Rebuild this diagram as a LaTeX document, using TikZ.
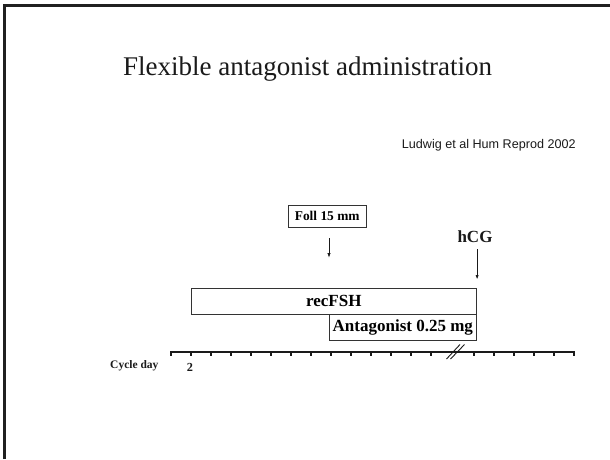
\documentclass[tikz,border=0pt]{standalone}
\usepackage{fontspec}
\setmainfont{Liberation Serif}
\newfontfamily\faSans{Liberation Sans}
\usepackage{xcolor}
\usepackage{tikz}
\usetikzlibrary{arrows.meta,calc,positioning}
\definecolor{faInk}{HTML}{1A1A1A}
\definecolor{faFrame}{HTML}{202020}
\definecolor{faEdge}{HTML}{333333}
\tikzset{
  fabox/.style={rectangle,draw=faEdge,fill=white,line width=0.8pt,
                inner sep=0pt,font=\fontsize{17}{20}\selectfont\bfseries},
  fatag/.style={fabox,font=\fontsize{13.4}{16}\selectfont\bfseries},
  faarrow/.style={-{Latex[length=4.5pt,width=3.2pt]},line width=0.7pt,faInk},
  falabel/.style={inner sep=0pt,text=faInk},
  faaxis/.style={line width=1.6pt,faInk},
  fatick/.style={line width=1.3pt,faInk}
}

\begin{document}
\begin{tikzpicture}[x=1pt,y=-1pt]
    \useasboundingbox (0,0) rectangle (610,459);
    % slide frame
    \draw[faFrame,line width=2.6pt,line join=miter] (4.5,459) -- (4.5,5.3) -- (610,5.3);

    \node[falabel,anchor=base west,font=\fontsize{27}{32}\selectfont] (title)
      at (123,75) {Flexible antagonist administration};
    \node[falabel,anchor=base west,font=\faSans\fontsize{12.6}{15}\selectfont] (cite)
      at (401.7,148) {Ludwig et al Hum Reprod 2002};

    % treatment bars
    \node[fabox,minimum width=285.7pt,minimum height=25.3pt] (recfsh)
      at (333.85,301.35) {recFSH};
    \node[fabox,minimum width=147.7pt,minimum height=25.3pt,anchor=north east] (antag)
      at (recfsh.south east) {Antagonist 0.25 mg};

    % triggers
    \node[fatag,minimum width=77.7pt,minimum height=22.3pt] (foll)
      at (327.2,216.2) {Foll 15 mm};
    \coordinate (follTip) at (329,257.7);
    \draw[faarrow,shorten <=10.3pt] (foll.south -| follTip) -- (follTip);

    \node[falabel,font=\fontsize{17}{20}\selectfont\bfseries] (hcg)
      at (475,237) {hCG};
    \draw[faarrow,line width=1pt,shorten <=6pt,shorten >=8.7pt]
      (hcg.south -| recfsh.north east) -- (recfsh.north east);

    % cycle day axis
    \coordinate (axisL) at (171,351.7);
    \coordinate (axisR) at (574.3,351.7);
    \draw[faaxis] (axisL) -- (axisR);
    \foreach \x in {171,191,...,431}
      \draw[fatick] (\x,351.2) -- ++(0,4.3);
    \foreach \x in {474,494,...,574}
      \draw[fatick] (\x,351.2) -- ++(0,4.3);
    \draw[faInk,line width=0.9pt] (446.5,359) -- (460,344.5);
    \draw[faInk,line width=0.9pt] (450.5,359) -- (464.5,344.5);

    \node[falabel,anchor=base west,font=\fontsize{11.5}{14}\selectfont\bfseries] (cycday)
      at (110,368.5) {Cycle day};
    \node[falabel,anchor=base,font=\fontsize{12.3}{15}\selectfont\bfseries] (day2)
      at (190,371.5) {2};
  \end{tikzpicture}
\end{document}
